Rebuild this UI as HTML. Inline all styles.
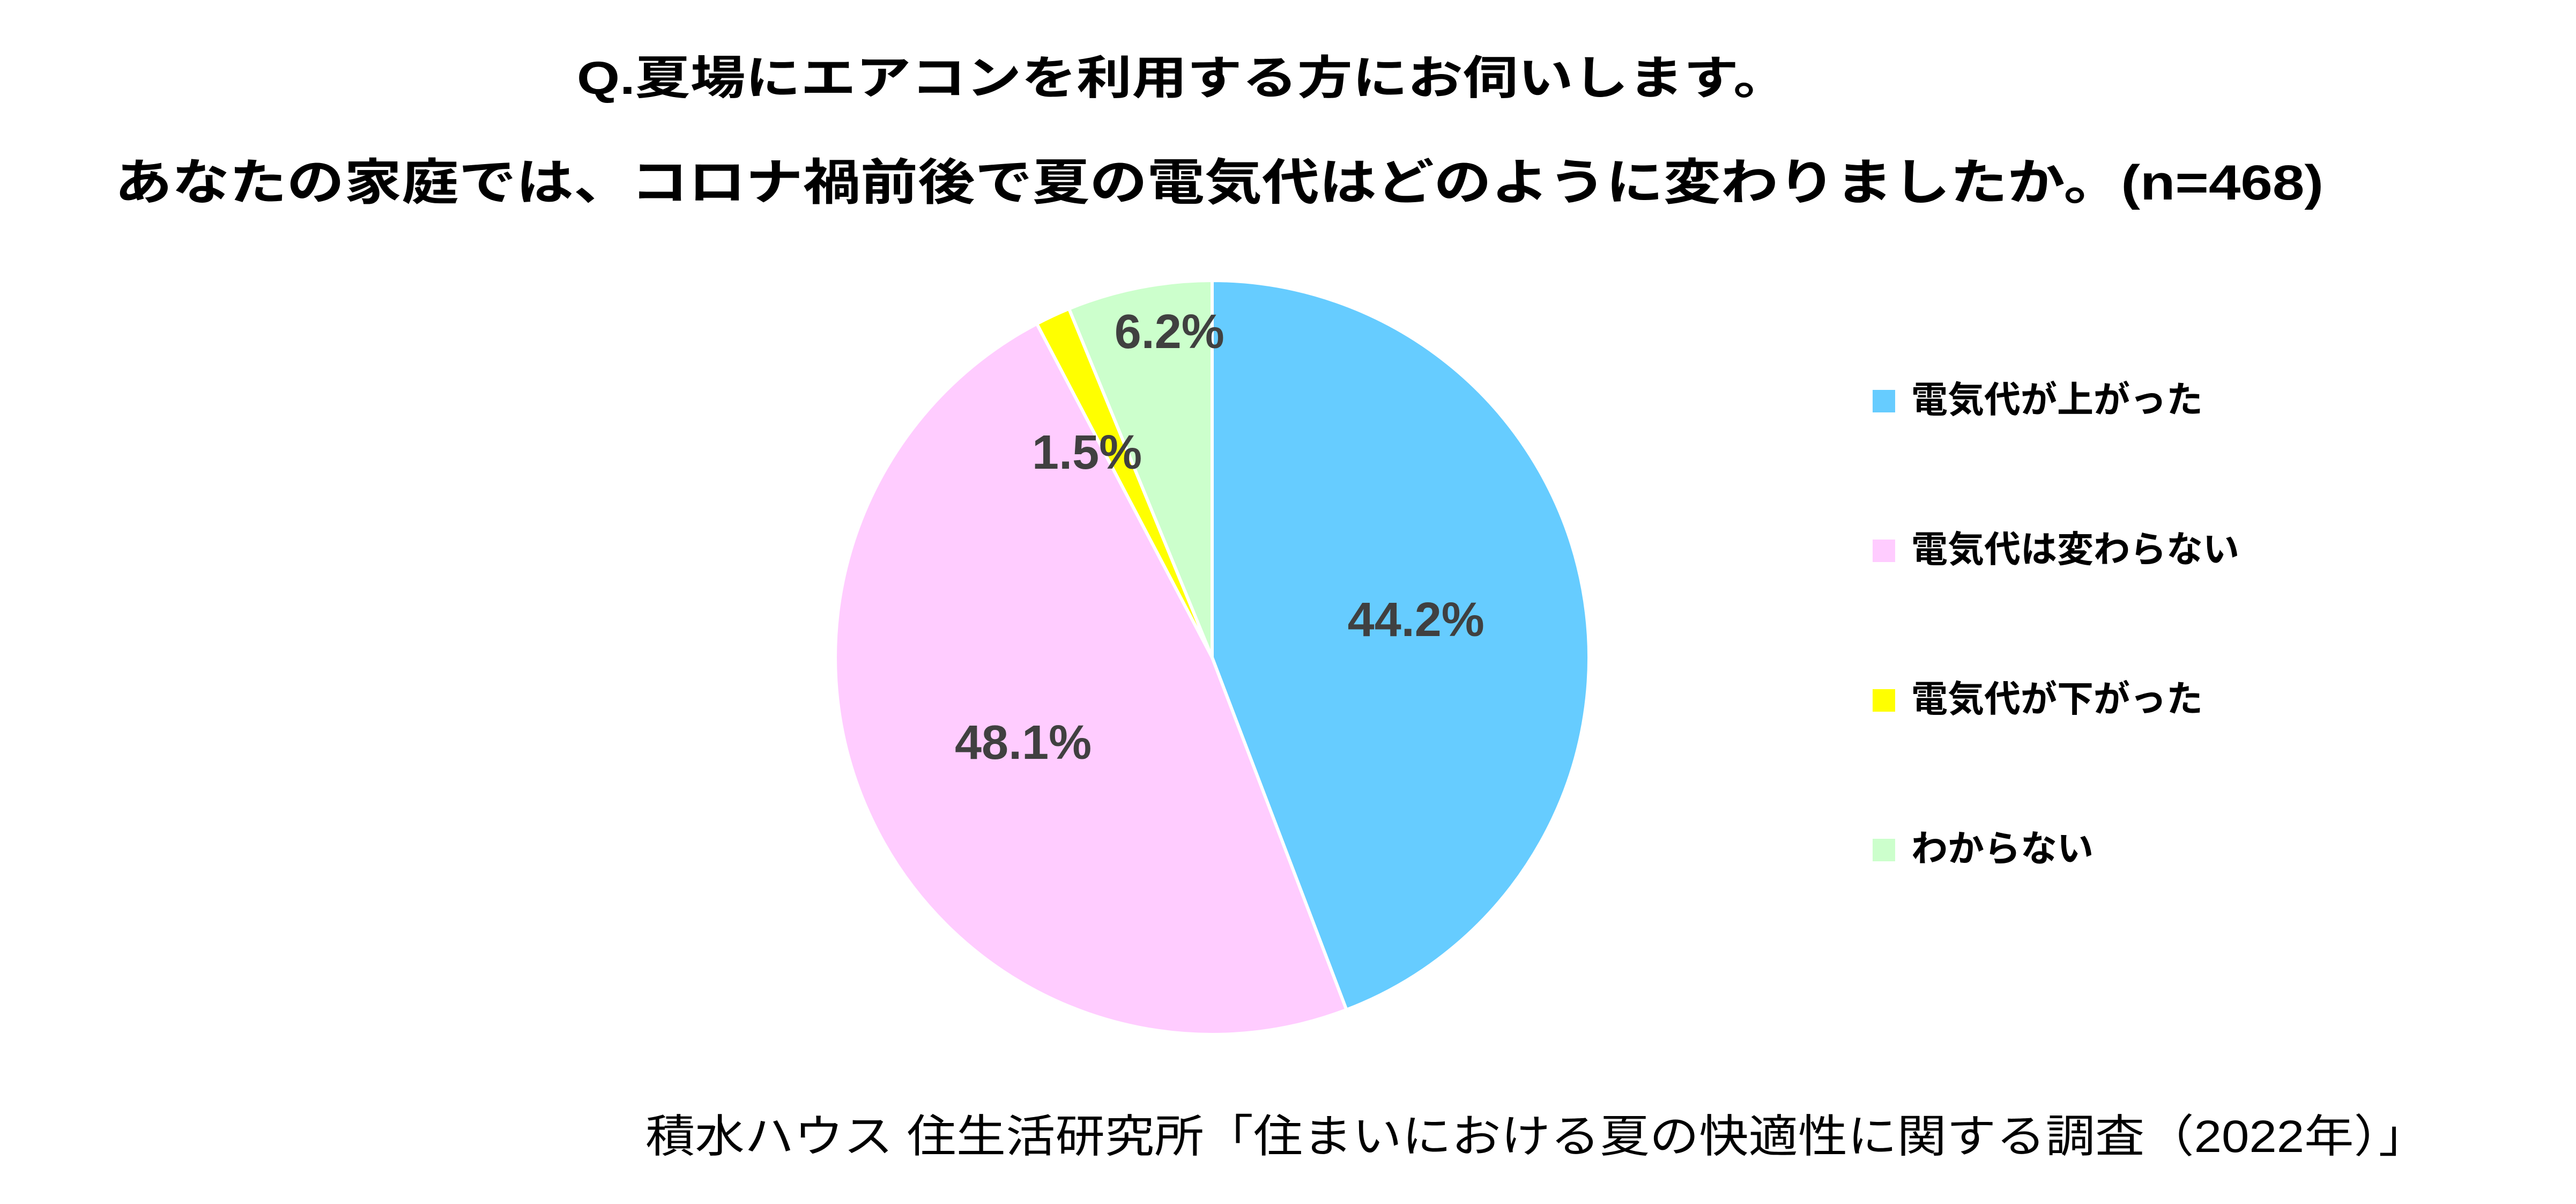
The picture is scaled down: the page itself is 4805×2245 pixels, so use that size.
<!DOCTYPE html>
<html><head><meta charset="utf-8"><style>
html,body{margin:0;padding:0;background:#fff;}
svg{display:block;font-family:"Liberation Sans","Noto Sans CJK JP",sans-serif;}
</style></head><body>
<svg id="chart" width="4805" height="2245" viewBox="0 0 4805 2245" xmlns="http://www.w3.org/2000/svg">
<rect width="4805" height="2245" fill="#fff"/>
<text x="2206" y="175" text-anchor="middle" font-size="86" font-weight="bold" fill="#000" textLength="2260" lengthAdjust="spacingAndGlyphs">Q.夏場にエアコンを利用する方にお伺いします。</text>
<text x="214" y="372" font-size="92" font-weight="bold" fill="#000" textLength="4120" lengthAdjust="spacingAndGlyphs">あなたの家庭では、コロナ禍前後で夏の電気代はどのように変わりましたか。(n=468)</text>
<g id="slices"></g>
<g id="labels"></g>
<g id="legend"></g>
<text x="1204" y="2148" font-size="84" fill="#000" textLength="3325" lengthAdjust="spacingAndGlyphs">積水ハウス 住生活研究所「住まいにおける夏の快適性に関する調査（2022年）」</text>
</svg>
<script>
const categories = ["電気代が上がった","電気代は変わらない","電気代が下がった","わからない"];
const values = [44.2, 48.1, 1.5, 6.2];
const valueLabels = ["44.2%","48.1%","1.5%","6.2%"];
const colors = ["#66CCFF","#FFCCFF","#FFFF00","#CCFFCC"];
const NS = "http://www.w3.org/2000/svg";
const cx = 2261, cy = 1226, r = 703;
const total = values.reduce((a,b)=>a+b,0);
const labelR = [0.55, 0.55, 0.6, 0.88];
function pt(frac, rad){const a = frac*2*Math.PI - Math.PI/2; return [cx+rad*Math.cos(a), cy+rad*Math.sin(a)];}
const gS = document.getElementById('slices'), gL = document.getElementById('labels'), gG = document.getElementById('legend');
let acc = 0;
values.forEach((v,i)=>{
  const s = acc/total, e = (acc+v)/total; acc += v;
  const [x1,y1] = pt(s,r), [x2,y2] = pt(e,r);
  const p = document.createElementNS(NS,'path');
  p.setAttribute('d',`M${cx},${cy} L${x1},${y1} A${r},${r} 0 ${(e-s)>0.5?1:0} 1 ${x2},${y2} Z`);
  p.setAttribute('fill',colors[i]); p.setAttribute('stroke','#fff'); p.setAttribute('stroke-width','6');
  
  
  gS.appendChild(p);
  const [lx,ly] = pt((s+e)/2, r*labelR[i]);
  const t = document.createElementNS(NS,'text');
  t.setAttribute('x', i===2 ? lx-55 : (i===3 ? lx+40 : lx)); t.setAttribute('y', ly+30);
  t.setAttribute('text-anchor','middle'); t.setAttribute('font-size','90'); t.setAttribute('font-weight','bold'); t.setAttribute('fill','#404040');
  t.textContent = valueLabels[i];
  
  
  gL.appendChild(t);
  const ly2 = 745 + i*279;
  const sq = document.createElementNS(NS,'rect');
  sq.setAttribute('x',3493); sq.setAttribute('y',ly2-18); sq.setAttribute('width',42); sq.setAttribute('height',42); sq.setAttribute('fill',colors[i]);
  
  
  gG.appendChild(sq);
  const lt = document.createElementNS(NS,'text');
  lt.setAttribute('x',3565); lt.setAttribute('y',ly2+24); lt.setAttribute('font-size','68'); lt.setAttribute('font-weight','bold'); lt.setAttribute('fill','#000');
  lt.textContent = categories[i];
  
  
  gG.appendChild(lt);
});
</script>
</body></html>
